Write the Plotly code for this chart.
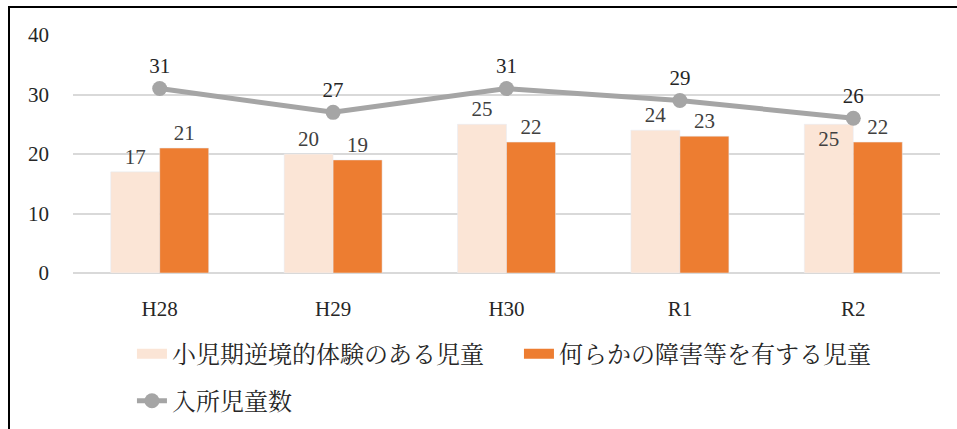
import plotly.graph_objects as go

categories = ["H28", "H29", "H30", "R1", "R2"]
ace_children = [17, 20, 25, 24, 25]
disabled_children = [21, 19, 22, 23, 22]
admitted_children = [31, 27, 31, 29, 26]

name_ace = "小児期逆境的体験のある児童"
name_dis = "何らかの障害等を有する児童"
name_adm = "入所児童数"

c_light = "#FBE5D6"
c_orange = "#ED7D31"
c_gray = "#A5A5A5"
txt = "#404040"
num_font = "Liberation Serif, DejaVu Serif, serif"
cjk_font = "Noto Serif CJK JP, Liberation Serif, Noto Sans CJK JP, serif"

ace_pos = ["outside", "outside", "outside", "outside", "inside"]

fig = go.Figure()
fig.add_trace(go.Bar(
    x=categories, y=ace_children, name=name_ace, marker_color=c_light,
    text=ace_children, textposition=ace_pos, insidetextanchor="end", cliponaxis=False,
    textfont=dict(family=num_font, size=21, color=txt), constraintext="none",
    legendgroup="a", showlegend=False))
fig.add_trace(go.Bar(
    x=categories, y=disabled_children, name=name_dis, marker_color=c_orange,
    text=disabled_children, textposition="outside", cliponaxis=False,
    textfont=dict(family=num_font, size=21, color=txt), constraintext="none",
    legendgroup="b", showlegend=False))
fig.add_trace(go.Scatter(
    x=categories, y=admitted_children, name=name_adm, mode="lines+markers+text",
    line=dict(color=c_gray, width=5), marker=dict(color=c_gray, size=15),
    text=admitted_children, textposition="top center", cliponaxis=False,
    textfont=dict(family=num_font, size=21, color="#262626"),
    legend="legend2"))
# legend swatches for bars
fig.add_trace(go.Scatter(x=[None], y=[None], mode="lines", name=name_ace,
                         line=dict(color=c_light, width=14), legendgroup="a"))
fig.add_trace(go.Scatter(x=[None], y=[None], mode="lines", name=name_dis,
                         line=dict(color=c_orange, width=14), legendgroup="b"))

fig.update_layout(
    width=957, height=429,
    margin=dict(l=73, r=17, t=35, b=156, autoexpand=False),
    paper_bgcolor="white", plot_bgcolor="white",
    barmode="group", bargap=0.435, bargroupgap=0,
    font=dict(family=num_font, size=21, color="#262626"),
    legend=dict(orientation="h", x=0.068, xanchor="left", y=-0.246, yanchor="top",
                font=dict(family=cjk_font, size=24, color="#262626"),
                entrywidth=342, entrywidthmode="pixels", bgcolor="rgba(0,0,0,0)"),
    legend2=dict(orientation="h", x=0.068, xanchor="left", y=-0.444, yanchor="top",
                 font=dict(family=cjk_font, size=24, color="#262626"),
                 bgcolor="rgba(0,0,0,0)"),
    shapes=[dict(type="rect", xref="paper", yref="paper",
                 x0=(9 - 73) / 867, x1=(975 - 73) / 867,
                 y0=(273 - 7) / 238, y1=(273 - 440) / 238,
                 line=dict(color="#000000", width=2), fillcolor="rgba(0,0,0,0)", layer="below")],
)
fig.update_xaxes(showgrid=False, showline=False, ticks="", ticklabelstandoff=21,
                 tickfont=dict(family=num_font, size=21, color="#262626"))
fig.update_yaxes(range=[0, 40], dtick=10, showgrid=True, gridcolor="#D9D9D9", gridwidth=2,
                 zeroline=True, zerolinecolor="#D9D9D9", zerolinewidth=2,
                 ticks="", ticklabelstandoff=23,
                 tickfont=dict(family=num_font, size=21, color="#262626"))

fig.write_html("out.html", config={"displayModeBar": False},
               post_script="document.body.style.margin='0';document.body.style.overflow='hidden';")
